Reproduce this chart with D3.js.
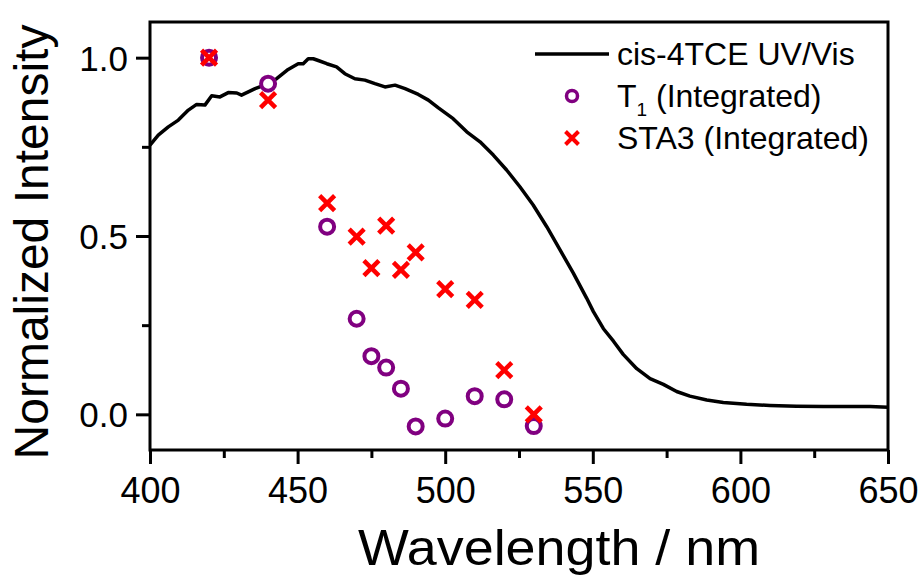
<!DOCTYPE html>
<html>
<head>
<meta charset="utf-8">
<script src="https://cdn.jsdelivr.net/npm/d3@7"></script>
<style>
  html, body { margin: 0; padding: 0; background: #fff; }
  svg { display: block; font-family: "Liberation Sans", Arial, sans-serif; }
</style>
</head>
<body>
<svg id="chart" width="923" height="577"></svg>
<script>
// ---- data ----
const uvWavelength = [400,402.8,406.2,409.6,413,415.8,418.6,420.9,423.7,426.5,429.4,431,433.3,435.6,439,442.9,446.8,450.2,451.9,453.6,455.3,457,459.9,463.2,466,469.4,472.8,476.2,479.6,483,486.4,490.9,494.3,497.7,502.7,507.3,511.8,516.3,520.8,525.3,529.8,534.4,538.9,543.4,547.9,550.2,553.6,557,560.3,564.9,569.4,573.9,578.4,582.9,588.6,594.2,602.1,610,619,628.1,636,643.9,650];
const uvIntensity = [0.755,0.783,0.806,0.825,0.853,0.869,0.867,0.893,0.890,0.902,0.901,0.895,0.904,0.913,0.924,0.941,0.967,0.983,0.983,0.997,0.997,0.992,0.983,0.974,0.955,0.941,0.937,0.927,0.918,0.923,0.913,0.897,0.881,0.859,0.829,0.792,0.764,0.727,0.685,0.638,0.587,0.526,0.461,0.396,0.326,0.288,0.240,0.205,0.168,0.128,0.100,0.084,0.064,0.051,0.040,0.033,0.028,0.025,0.023,0.022,0.022,0.022,0.020];

const t1Wavelength = [420,440,460,470,475,480,485,490,500,510,520,530];
const t1Intensity  = [1.0,0.927,0.526,0.268,0.163,0.131,0.072,-0.034,-0.012,0.051,0.042,-0.033];

const sta3Wavelength = [420,440,460,470,475,480,485,490,500,510,520,530];
const sta3Intensity  = [1.0,0.881,0.592,0.498,0.41,0.529,0.405,0.454,0.351,0.321,0.124,0.0];

const xTicks = [400,450,500,550,600,650];
const xMinorTicks = [425,475,525,575,625];
const yTicks = [0.0,0.5,1.0];
const yMinorTicks = [0.25,0.75];

const legendLabels = ["cis-4TCE UV/Vis", "T", "STA3 (Integrated)"];

// ---- layout ----
const svg = d3.select("#chart");
const L = 150, R = 888, T = 22, B = 450;
const x = d3.scaleLinear().domain([400,650]).range([L,R]);
const y = d3.scaleLinear().domain([-0.1,1.1]).range([B,T]);
const purple = "#800080", red = "#ff0000";

// curve
const line = d3.line().x((d,i)=>x(uvWavelength[i])).y((d,i)=>y(uvIntensity[i]));
svg.append("path").datum(uvIntensity)
  .attr("d", line).attr("fill","none").attr("stroke","#000")
  .attr("stroke-width",3.5).attr("stroke-linejoin","round");

// T1 circles
svg.append("g").selectAll("circle").data(t1Intensity).join("circle")
  .attr("cx",(d,i)=>x(t1Wavelength[i])).attr("cy",d=>y(d))
  .attr("r",7).attr("fill","#fff").attr("stroke",purple).attr("stroke-width",4);

// STA3 crosses
const crossPath = s => `M${-s},${-s}L${s},${s}M${-s},${s}L${s},${-s}`;
svg.append("g").selectAll("path").data(sta3Intensity).join("path")
  .attr("transform",(d,i)=>`translate(${x(sta3Wavelength[i])},${y(d)})`)
  .attr("d",crossPath(7.5)).attr("stroke",red).attr("stroke-width",4.5).attr("fill","none");

// frame
svg.append("rect").attr("x",L).attr("y",T).attr("width",R-L).attr("height",B-T)
  .attr("fill","none").attr("stroke","#000").attr("stroke-width",3);

// axes
const xAxis = svg.append("g").attr("transform",`translate(0,${B})`)
  .call(d3.axisBottom(x).tickValues(xTicks).tickSize(14).tickSizeOuter(0).tickFormat(d3.format("d")));
const xMinor = svg.append("g").attr("transform",`translate(0,${B})`)
  .call(d3.axisBottom(x).tickValues(xMinorTicks).tickSize(8).tickSizeOuter(0).tickFormat(""));
const yAxis = svg.append("g").attr("transform",`translate(${L},0)`)
  .call(d3.axisLeft(y).tickValues(yTicks).tickSize(14).tickSizeOuter(0).tickPadding(8).tickFormat(d3.format(".1f")));
const yMinor = svg.append("g").attr("transform",`translate(${L},0)`)
  .call(d3.axisLeft(y).tickValues(yMinorTicks).tickSize(8).tickSizeOuter(0).tickFormat(""));
[xAxis,xMinor,yAxis,yMinor].forEach(g=>{
  g.select(".domain").remove();
  g.selectAll(".tick line").attr("stroke","#000").attr("stroke-width",3);
  g.selectAll("text").attr("fill","#000").attr("font-size",35).attr("font-family","Liberation Sans, Arial, sans-serif");
});
xAxis.selectAll("text").attr("font-size",36).attr("y",53).attr("dy","0");
yAxis.selectAll("text").attr("dy","0.36em");

// axis titles
svg.append("text").attr("x",559).attr("y",565).attr("text-anchor","middle")
  .attr("font-size",50).attr("textLength",402).attr("lengthAdjust","spacingAndGlyphs")
  .attr("fill","#000").text("Wavelength / nm");
svg.append("text").attr("transform","translate(48,242) rotate(-90)").attr("text-anchor","middle")
  .attr("font-size",48).attr("fill","#000").text("Normalized Intensity");

// legend
const lg = svg.append("g");
const rows = [54, 96, 138];
lg.append("line").attr("x1",535).attr("x2",609).attr("y1",rows[0]).attr("y2",rows[0])
  .attr("stroke","#000").attr("stroke-width",3.5);
lg.append("circle").attr("cx",572).attr("cy",rows[1]).attr("r",5.5)
  .attr("fill","#fff").attr("stroke",purple).attr("stroke-width",3.5);
lg.append("path").attr("transform",`translate(572,${rows[2]})`).attr("d",crossPath(6.5))
  .attr("stroke",red).attr("stroke-width",4).attr("fill","none");
lg.append("text").attr("x",617).attr("y",rows[0]+11).attr("font-size",32).attr("fill","#000").text(legendLabels[0]);
const t1 = lg.append("text").attr("x",617).attr("y",rows[1]+11).attr("font-size",32).attr("fill","#000");
t1.append("tspan").text(legendLabels[1]);
t1.append("tspan").attr("font-size",19).attr("dy",9).text("1");
t1.append("tspan").attr("dy",-9).text(" (Integrated)");
lg.append("text").attr("x",617).attr("y",rows[2]+11).attr("font-size",32).attr("fill","#000").text(legendLabels[2]);
</script>
</body>
</html>
